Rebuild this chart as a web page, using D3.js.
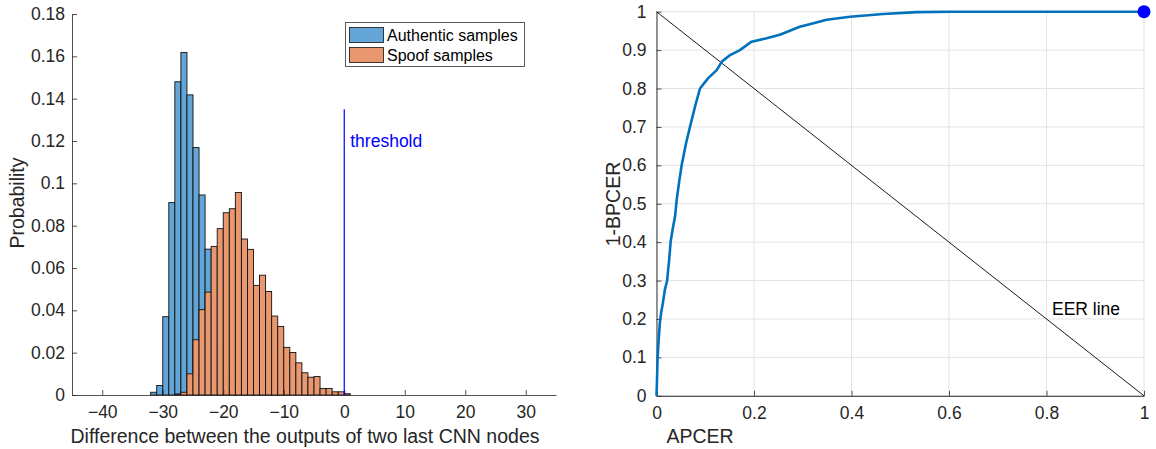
<!DOCTYPE html>
<html>
<head>
<meta charset="utf-8">
<script src="https://cdn.jsdelivr.net/npm/d3@7"></script>
<style>
  html, body { margin: 0; padding: 0; background: #fff; }
  svg { display: block; font-family: "Liberation Sans", Arial, sans-serif; }
</style>
</head>
<body>
<svg id="chart" width="1156" height="449"></svg>
<script>
// Histogram of the score difference (bin width 1)
const authenticStart = -32;
const authenticProb = [0.0013, 0.0045, 0.037, 0.0909, 0.148, 0.1618, 0.1418, 0.1169, 0.0945, 0.0689,
                       0.040, 0.022, 0.012, 0.006, 0.003, 0.002, 0.001, 0.001, 0.0005, 0.0005, 0.0003, 0.0003, 0.0002];
const spoofStart = -28;
const spoofProb = [0.0005, 0.0013, 0.010, 0.0261, 0.0403, 0.0486, 0.0702, 0.0786, 0.0861, 0.0880,
                   0.0957, 0.0737, 0.0688, 0.0518, 0.0566, 0.0489, 0.0373, 0.0324, 0.0225, 0.0201,
                   0.0152, 0.0105, 0.0084, 0.0087, 0.0031, 0.0031, 0.0015, 0.0015, 0.0006];
const histXTicks = [-40, -30, -20, -10, 0, 10, 20, 30];
const histYTicks = [0, 0.02, 0.04, 0.06, 0.08, 0.1, 0.12, 0.14, 0.16, 0.18];
const thresholdValue = 0;
const thresholdTop = 0.135;
const legendLabels = ["Authentic samples", "Spoof samples"];

// ROC curve
const apcer = [0, 0.001, 0.002, 0.004, 0.007, 0.010, 0.013, 0.017, 0.022, 0.024, 0.026, 0.029, 0.034, 0.038,
               0.0414, 0.047, 0.0517, 0.0605, 0.0687, 0.079, 0.0892, 0.106, 0.1235, 0.134, 0.151, 0.171,
               0.195, 0.226, 0.253, 0.294, 0.322, 0.349, 0.397, 0.465, 0.534, 0.602, 1];
const oneMinusBpcer = [0, 0.04, 0.09, 0.137, 0.192, 0.22, 0.241, 0.275, 0.301, 0.33, 0.354, 0.401, 0.44, 0.466,
               0.51, 0.562, 0.601, 0.657, 0.70, 0.753, 0.80, 0.827, 0.848, 0.870, 0.887, 0.90,
               0.922, 0.931, 0.94, 0.961, 0.97, 0.979, 0.987, 0.994, 0.999, 1, 1];
const rocXTicks = [0, 0.2, 0.4, 0.6, 0.8, 1];
const rocYTicks = [0, 0.1, 0.2, 0.3, 0.4, 0.5, 0.6, 0.7, 0.8, 0.9, 1];
const eerLine = [[0, 1], [1, 0]];

const svg = d3.select("#chart");
const txt = "#262626";
const axisCol = "#262626";
const tickFont = 17.5;
const labelFont = 19.5;
const fmt = d => d === 0 ? "0" : String(+d.toFixed(2));

// ---------- left: histogram ----------
const hx = d3.scaleLinear().domain([-45, 35]).range([72, 556]);
const hy = d3.scaleLinear().domain([0, 0.18]).range([395, 14]);
const left = svg.append("g");

function bars(start, values, fill) {
  left.append("g").selectAll("rect").data(values).join("rect")
    .attr("x", (d, i) => hx(start + i))
    .attr("width", (d, i) => hx(start + i + 1) - hx(start + i))
    .attr("y", d => hy(d))
    .attr("height", d => hy(0) - hy(d))
    .attr("fill", fill)
    .attr("stroke", "#111")
    .attr("stroke-width", 0.9);
}
bars(authenticStart, authenticProb, "#62a5d6");
bars(spoofStart, spoofProb, "#e9976f");

// axes
const hxAxis = d3.axisBottom(hx).tickValues(histXTicks).tickSizeInner(-5).tickSizeOuter(0).tickPadding(11).tickFormat(d3.format("d"));
const gx = left.append("g").attr("transform", `translate(0,${hy(0)})`).call(hxAxis);
const hyAxis = d3.axisLeft(hy).tickValues(histYTicks).tickSizeInner(-5).tickSizeOuter(0).tickPadding(7).tickFormat(fmt);
const gy = left.append("g").attr("transform", `translate(${hx(-45)},0)`).call(hyAxis);
[gx, gy].forEach(g => {
  g.select(".domain").attr("stroke", axisCol).attr("stroke-width", 0.8);
  g.selectAll(".tick line").attr("stroke", axisCol).attr("stroke-width", 0.8);
  g.selectAll(".tick text").attr("fill", txt).attr("font-size", tickFont).attr("font-family", "Liberation Sans, Arial, sans-serif");
});

// threshold
left.append("line")
  .attr("x1", hx(thresholdValue)).attr("x2", hx(thresholdValue))
  .attr("y1", hy(thresholdTop)).attr("y2", hy(0))
  .attr("stroke", "#0000ff").attr("stroke-width", 1.2);
left.append("text").attr("x", hx(thresholdValue) + 6).attr("y", 147)
  .attr("fill", "#0000ff").attr("font-size", 17.5).text("threshold");

// legend
const lg = left.append("g");
lg.append("rect").attr("x", 345.5).attr("y", 22.5).attr("width", 179).attr("height", 44)
  .attr("fill", "#fff").attr("stroke", "#333").attr("stroke-width", 0.8);
[["#62a5d6", legendLabels[0]], ["#e9976f", legendLabels[1]]].forEach(([c, l], i) => {
  lg.append("rect").attr("x", 349.5).attr("y", 27.5 + i * 20).attr("width", 34).attr("height", 15)
    .attr("fill", c).attr("stroke", "#111").attr("stroke-width", 0.8);
  lg.append("text").attr("x", 387).attr("y", 41 + i * 20).attr("fill", "#000")
    .attr("font-size", 16).text(l);
});

// labels
left.append("text").attr("x", 305).attr("y", 443).attr("text-anchor", "middle")
  .attr("fill", txt).attr("font-size", labelFont).text("Difference between the outputs of two last CNN nodes");
left.append("text").attr("transform", "translate(24,203) rotate(-90)").attr("text-anchor", "middle")
  .attr("fill", txt).attr("font-size", labelFont).text("Probability");

// ---------- right: ROC ----------
const rx = d3.scaleLinear().domain([0, 1]).range([656.5, 1144]);
const ry = d3.scaleLinear().domain([0, 1]).range([395.8, 11.7]);
const right = svg.append("g");

// grid
right.append("g").selectAll("line").data(rocXTicks).join("line")
  .attr("x1", d => rx(d)).attr("x2", d => rx(d)).attr("y1", ry(0)).attr("y2", ry(1))
  .attr("stroke", "#e3e3e3").attr("stroke-width", 1);
right.append("g").selectAll("line").data(rocYTicks).join("line")
  .attr("x1", rx(0)).attr("x2", rx(1)).attr("y1", d => ry(d)).attr("y2", d => ry(d))
  .attr("stroke", "#e3e3e3").attr("stroke-width", 1);

const rxAxis = d3.axisBottom(rx).tickValues(rocXTicks).tickSizeInner(-5).tickSizeOuter(0).tickPadding(11).tickFormat(fmt);
const rgx = right.append("g").attr("transform", `translate(0,${ry(0)})`).call(rxAxis);
const ryAxis = d3.axisLeft(ry).tickValues(rocYTicks).tickSizeInner(-5).tickSizeOuter(0).tickPadding(10).tickFormat(fmt);
const rgy = right.append("g").attr("transform", `translate(${rx(0)},0)`).call(ryAxis);
[rgx, rgy].forEach(g => {
  g.select(".domain").attr("stroke", "#555").attr("stroke-width", 1.2);
  g.selectAll(".tick line").attr("stroke", axisCol).attr("stroke-width", 0.8);
  g.selectAll(".tick text").attr("fill", txt).attr("font-size", tickFont).attr("font-family", "Liberation Sans, Arial, sans-serif");
});

// EER line
right.append("line")
  .attr("x1", rx(eerLine[0][0])).attr("y1", ry(eerLine[0][1]))
  .attr("x2", rx(eerLine[1][0])).attr("y2", ry(eerLine[1][1]))
  .attr("stroke", "#000").attr("stroke-width", 0.9);
right.append("text").attr("x", 1052).attr("y", 315).attr("fill", "#000").attr("font-size", 17.5).text("EER line");

// ROC curve
const rocPts = apcer.map((a, i) => [a, oneMinusBpcer[i]]);
right.append("path").datum(rocPts)
  .attr("d", d3.line().x(d => rx(d[0])).y(d => ry(d[1])))
  .attr("fill", "none").attr("stroke", "#0072bd").attr("stroke-width", 2.6)
  .attr("stroke-linejoin", "round");
const lastPt = rocPts[rocPts.length - 1];
right.append("circle").attr("cx", rx(lastPt[0])).attr("cy", ry(lastPt[1])).attr("r", 6.5)
  .attr("fill", "#0000ff");

// labels
right.append("text").attr("x", 700).attr("y", 443).attr("text-anchor", "middle")
  .attr("fill", txt).attr("font-size", labelFont).text("APCER");
right.append("text").attr("transform", "translate(620,204) rotate(-90)").attr("text-anchor", "middle")
  .attr("fill", txt).attr("font-size", labelFont).text("1-BPCER");
</script>
</body>
</html>
